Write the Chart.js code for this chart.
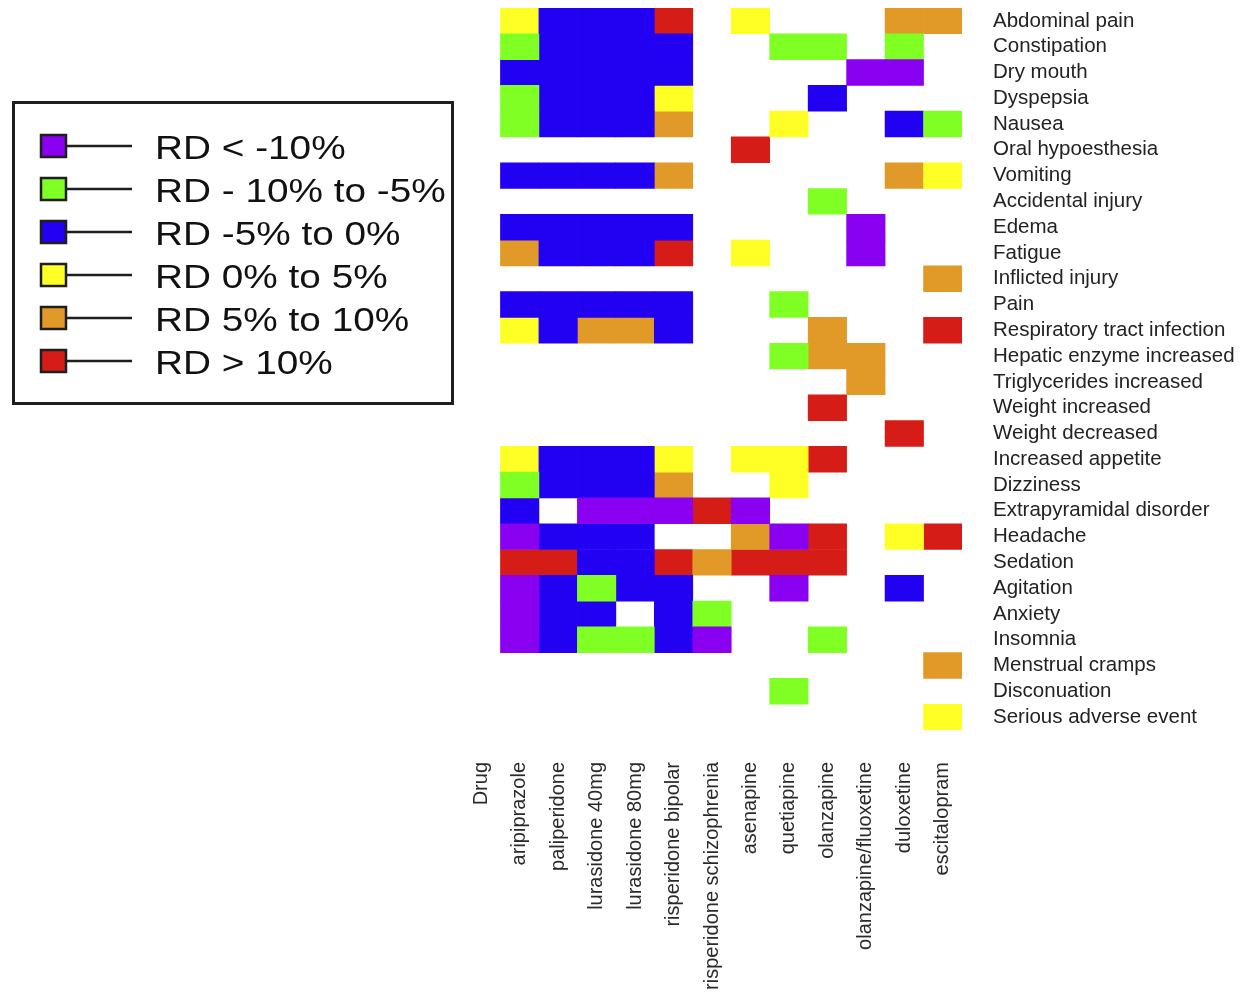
<!DOCTYPE html>
<html>
<head>
<meta charset="utf-8">
<script src="https://cdn.jsdelivr.net/npm/chart.js@4/dist/chart.umd.min.js"></script>
<style>
  html, body { margin: 0; padding: 0; background: #fff; }
</style>
</head>
<body>
<canvas id="heat" width="1240" height="996"></canvas>
<script>
var drugs = ["Drug", "aripiprazole", "paliperidone", "lurasidone 40mg", "lurasidone 80mg",
  "risperidone bipolar", "risperidone schizophrenia", "asenapine", "quetiapine", "olanzapine",
  "olanzapine/fluoxetine", "duloxetine", "escitalopram"];

var effects = ["Abdominal pain", "Constipation", "Dry mouth", "Dyspepsia", "Nausea",
  "Oral hypoesthesia", "Vomiting", "Accidental injury", "Edema", "Fatigue", "Inflicted injury",
  "Pain", "Respiratory tract infection", "Hepatic enzyme increased", "Triglycerides increased",
  "Weight increased", "Weight decreased", "Increased appetite", "Dizziness",
  "Extrapyramidal disorder", "Headache", "Sedation", "Agitation", "Anxiety", "Insomnia",
  "Menstrual cramps", "Disconuation", "Serious adverse event"];

var rdClasses = ["RD < -10%", "RD - 10% to -5%", "RD -5% to 0%", "RD 0% to 5%", "RD 5% to 10%", "RD > 10%"];
var rdCodes = ["P", "G", "B", "Y", "O", "R"];
var rdColors = ["#8a00f0", "#80ff24", "#2200f2", "#ffff26", "#e19a27", "#d61c17"];

// one string per effect, one letter per drug from aripiprazole to escitalopram ("." = no data)
var cells = [
  "YBBBR.Y...OO",
  "GBBBB..GG.G.",
  "BBBBB....PP.",
  "GBBBY...B...",
  "GBBBO..Y..BG",
  "......R.....",
  "BBBBO.....OY",
  "........G...",
  "BBBBB....P..",
  "OBBBR.Y..P..",
  "...........O",
  "BBBBB..G....",
  "YBOOB...O..R",
  ".......GOO..",
  ".........O..",
  "........R...",
  "..........R.",
  "YBBBY.YYR...",
  "GBBBO..Y....",
  "B.PPPRP.....",
  "PBBB..OPR.YR",
  "RRBBRORRR...",
  "PBGBB..P..B.",
  "PBB.BG......",
  "PBGGBP..G...",
  "...........O",
  ".......G....",
  "...........Y"
];

var datasets = rdClasses.map(function(label, k) {
  var pts = [];
  cells.forEach(function(row, r) {
    for (var c = 0; c < row.length; c++) {
      if (row[c] === rdCodes[k]) {
        pts.push({x: drugs[c + 1], y: [r, r + 1]});
      }
    }
  });
  return {
    label: label,
    data: pts,
    backgroundColor: rdColors[k],
    borderWidth: 0,
    borderSkipped: false,
    grouped: false,
    barPercentage: 1,
    categoryPercentage: 1
  };
});

// legend drawn in its own box on the left, same look as the original figure
var legendBox = {
  id: 'legendBox',
  afterDraw: function(chart) {
    var ctx = chart.ctx;
    ctx.save();
    ctx.strokeStyle = '#1e1e1e';
    ctx.lineWidth = 3;
    ctx.strokeRect(13.5, 102.5, 439, 301);
    rdClasses.forEach(function(label, i) {
      var y = 146 + i * 43;
      ctx.lineWidth = 2.5;
      ctx.beginPath();
      ctx.moveTo(64, y);
      ctx.lineTo(132, y);
      ctx.stroke();
      ctx.fillStyle = rdColors[i];
      ctx.fillRect(41, y - 11, 25, 22);
      ctx.strokeRect(41, y - 11, 25, 22);
      ctx.save();
      ctx.translate(155, y + 4);
      ctx.scale(1.14, 1);
      ctx.fillStyle = '#111';
      ctx.font = '34px "Liberation Sans", Arial, sans-serif';
      ctx.textBaseline = 'middle';
      ctx.fillText(label, 0, 0);
      ctx.restore();
    });
    ctx.restore();
  }
};

var ctx = document.getElementById('heat').getContext('2d');
var myChart = new Chart(ctx, {
  type: 'bar',
  data: { labels: drugs, datasets: datasets },
  options: {
    responsive: false,
    animation: false,
    layout: { padding: { left: 462, top: 8, right: 0, bottom: 0 } },
    plugins: {
      legend: { display: false },
      tooltip: { enabled: false }
    },
    scales: {
      x: {
        type: 'category',
        position: 'bottom',
        grid: { display: false },
        border: { display: false },
        afterFit: function(scale) {
          scale.height = 266;
          scale.paddingLeft = 0;
          scale.paddingRight = 0;
        },
        ticks: {
          autoSkip: false,
          maxRotation: 90,
          minRotation: 90,
          padding: 24,
          color: '#2a2a2a',
          font: { family: '"Liberation Sans", Arial, sans-serif', size: 20 }
        }
      },
      y: {
        type: 'linear',
        position: 'right',
        reverse: true,
        min: 0,
        max: effects.length,
        grid: { display: false, drawTicks: false },
        border: { display: false },
        afterFit: function(scale) {
          scale.width = 278;
          scale.paddingTop = 0;
          scale.paddingBottom = 0;
        },
        afterBuildTicks: function(axis) {
          axis.ticks = effects.map(function(e, i) { return {value: i + 0.5}; });
        },
        ticks: {
          autoSkip: false,
          padding: 31,
          color: '#222',
          font: { family: '"Liberation Sans", Arial, sans-serif', size: 20.5 },
          callback: function(value, index) { return effects[index]; }
        }
      }
    }
  },
  plugins: [legendBox]
});
</script>
</body>
</html>
